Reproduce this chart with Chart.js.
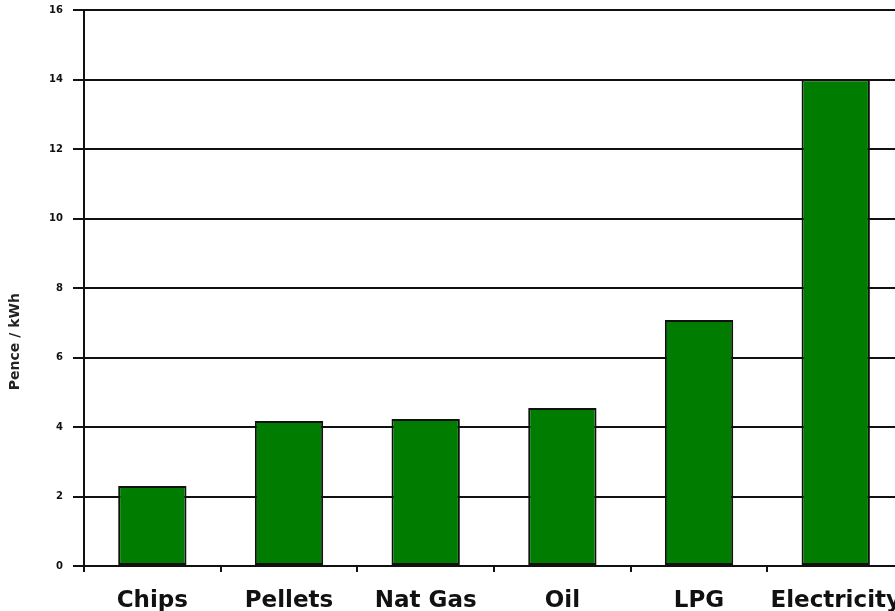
<!DOCTYPE html>
<html>
<head>
<meta charset="utf-8">
<script src="https://cdn.jsdelivr.net/npm/chart.js@4.4.1/dist/chart.umd.min.js"></script>
<style>
  html, body { margin: 0; padding: 0; background: #fff; overflow: hidden; }
  #wrap { position: absolute; left: -8px; top: -6px; width: 924px; height: 617px; }
</style>
</head>
<body>
<div id="wrap"><canvas id="chart" width="924" height="617"></canvas></div>
<script>
const fuels = ['Chips', 'Pellets', 'Nat Gas', 'Oil', 'LPG', 'Electricity'];
const pencePerKwh = [2.3, 4.17, 4.23, 4.55, 7.08, 14];
const yTicks = [0, 2, 4, 6, 8, 10, 12, 14, 16];

const ink = '#111';

new Chart(document.getElementById('chart'), {
  type: 'bar',
  data: {
    labels: fuels,
    datasets: [{
      label: 'Pence / kWh',
      data: pencePerKwh,
      backgroundColor: '#007d00',
      borderColor: '#111',
      borderWidth: 2,
      borderSkipped: false,
      categoryPercentage: 1,
      barPercentage: 0.5
    }]
  },
  options: {
    responsive: false,
    animation: false,
    layout: { padding: { top: 4, left: 0, right: 0, bottom: 0 } },
    plugins: {
      legend: { display: false },
      tooltip: { enabled: false }
    },
    scales: {
      x: {
        afterFit: (scale) => { scale.height = 45; },
        grid: {
          offset: true,
          drawOnChartArea: false,
          drawTicks: true,
          tickLength: 6,
          color: ink,
          lineWidth: 2
        },
        border: { display: true, color: ink, width: 2 },
        ticks: {
          color: '#111',
          padding: 15,
          font: { family: 'DejaVu Sans', size: 23, weight: 'bold' }
        }
      },
      y: {
        min: 0,
        max: 16,
        afterFit: (scale) => { scale.width = 92; },
        afterBuildTicks: (scale) => { scale.ticks = yTicks.map((v) => ({ value: v })); },
        grid: {
          drawTicks: true,
          tickLength: 11,
          color: ink,
          lineWidth: 2
        },
        border: { display: true, color: ink, width: 2 },
        ticks: {
          color: '#111',
          padding: 10,
          font: { family: 'DejaVu Sans', size: 10, weight: 'bold' }
        },
        title: {
          display: true,
          text: 'Pence / kWh                      ',
          color: '#222',
          padding: { top: 15, bottom: 0 },
          font: { family: 'DejaVu Sans', size: 14, weight: 'bold' }
        }
      }
    }
  }
});
</script>
</body>
</html>
